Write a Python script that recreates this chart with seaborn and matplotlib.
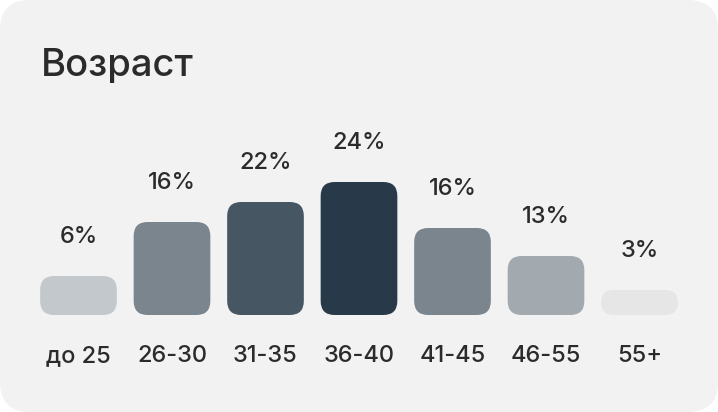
import numpy as np
import pandas as pd
import seaborn as sns
import matplotlib.pyplot as plt
from matplotlib.patches import FancyBboxPatch

# data
categories = ['до 25', '26-30', '31-35', '36-40', '41-45', '46-55', '55+']
pct_labels = ['6%', '16%', '22%', '24%', '16%', '13%', '3%']
bar_heights = [39, 93, 113, 133, 87, 59, 25]   # drawn heights
bar_colors = ['#c3c8cc', '#7a858e', '#475663', '#283a4a', '#7a858e', '#a2a9af', '#e6e6e6']

df = pd.DataFrame({'age': categories, 'height': bar_heights})

sns.set_theme(style='white')
plt.rcParams['font.family'] = ['Inter', 'DejaVu Sans']
txt_color = '#2b2b2b'

W, H = 718, 412
fig = plt.figure(figsize=(W / 100, H / 100), dpi=100)
fig.patch.set_facecolor('white')

# card background
bg = fig.add_axes([0, 0, 1, 1])
bg.set_xlim(0, W)
bg.set_ylim(0, H)
bg.axis('off')
bg.add_patch(FancyBboxPatch((0, 0), W, H, boxstyle='round,pad=0,rounding_size=30',
                            facecolor='#f2f2f2', edgecolor='none'))
bg.text(41, H - 76, 'Возраст', fontsize=27.5, color=txt_color, va='baseline',
        ha='left', fontweight='medium')

# bars axes: 1 y unit = 1 px, baseline at 97 px from bottom
step = 93.5
x0 = 78.5 - step / 2
ax_h = 220
ax = fig.add_axes([x0 / W, 97 / H, (step * 7) / W, ax_h / H])
ax.patch.set_alpha(0)
sns.barplot(data=df, x='age', y='height', hue='age', palette=bar_colors,
            legend=False, width=0.82, ax=ax, saturation=1)
ax.set_xlim(-0.5, 6.5)
ax.set_ylim(0, ax_h)
ax.axis('off')

# swap rectangles for rounded ones
aspect = step  # px per x unit / px per y unit
for p in list(ax.patches):
    x, y = p.get_x(), p.get_y()
    w, h = p.get_width(), p.get_height()
    fc = p.get_facecolor()
    p.remove()
    r = min(14, h / 2) / aspect
    ax.add_patch(FancyBboxPatch((x, y), w, h,
                                boxstyle=f'round,pad=0,rounding_size={r}',
                                mutation_aspect=aspect, facecolor=fc,
                                edgecolor='none'))

for i, (lab, h) in enumerate(zip(pct_labels, bar_heights)):
    ax.text(i, h + 39, lab, ha='center', va='center', fontsize=17,
            color=txt_color, fontweight='medium')
    ax.text(i, -41, categories[i], ha='center', va='center', fontsize=17,
            color=txt_color, fontweight='medium', clip_on=False)

fig.savefig('out.png', dpi=100, facecolor='white')
